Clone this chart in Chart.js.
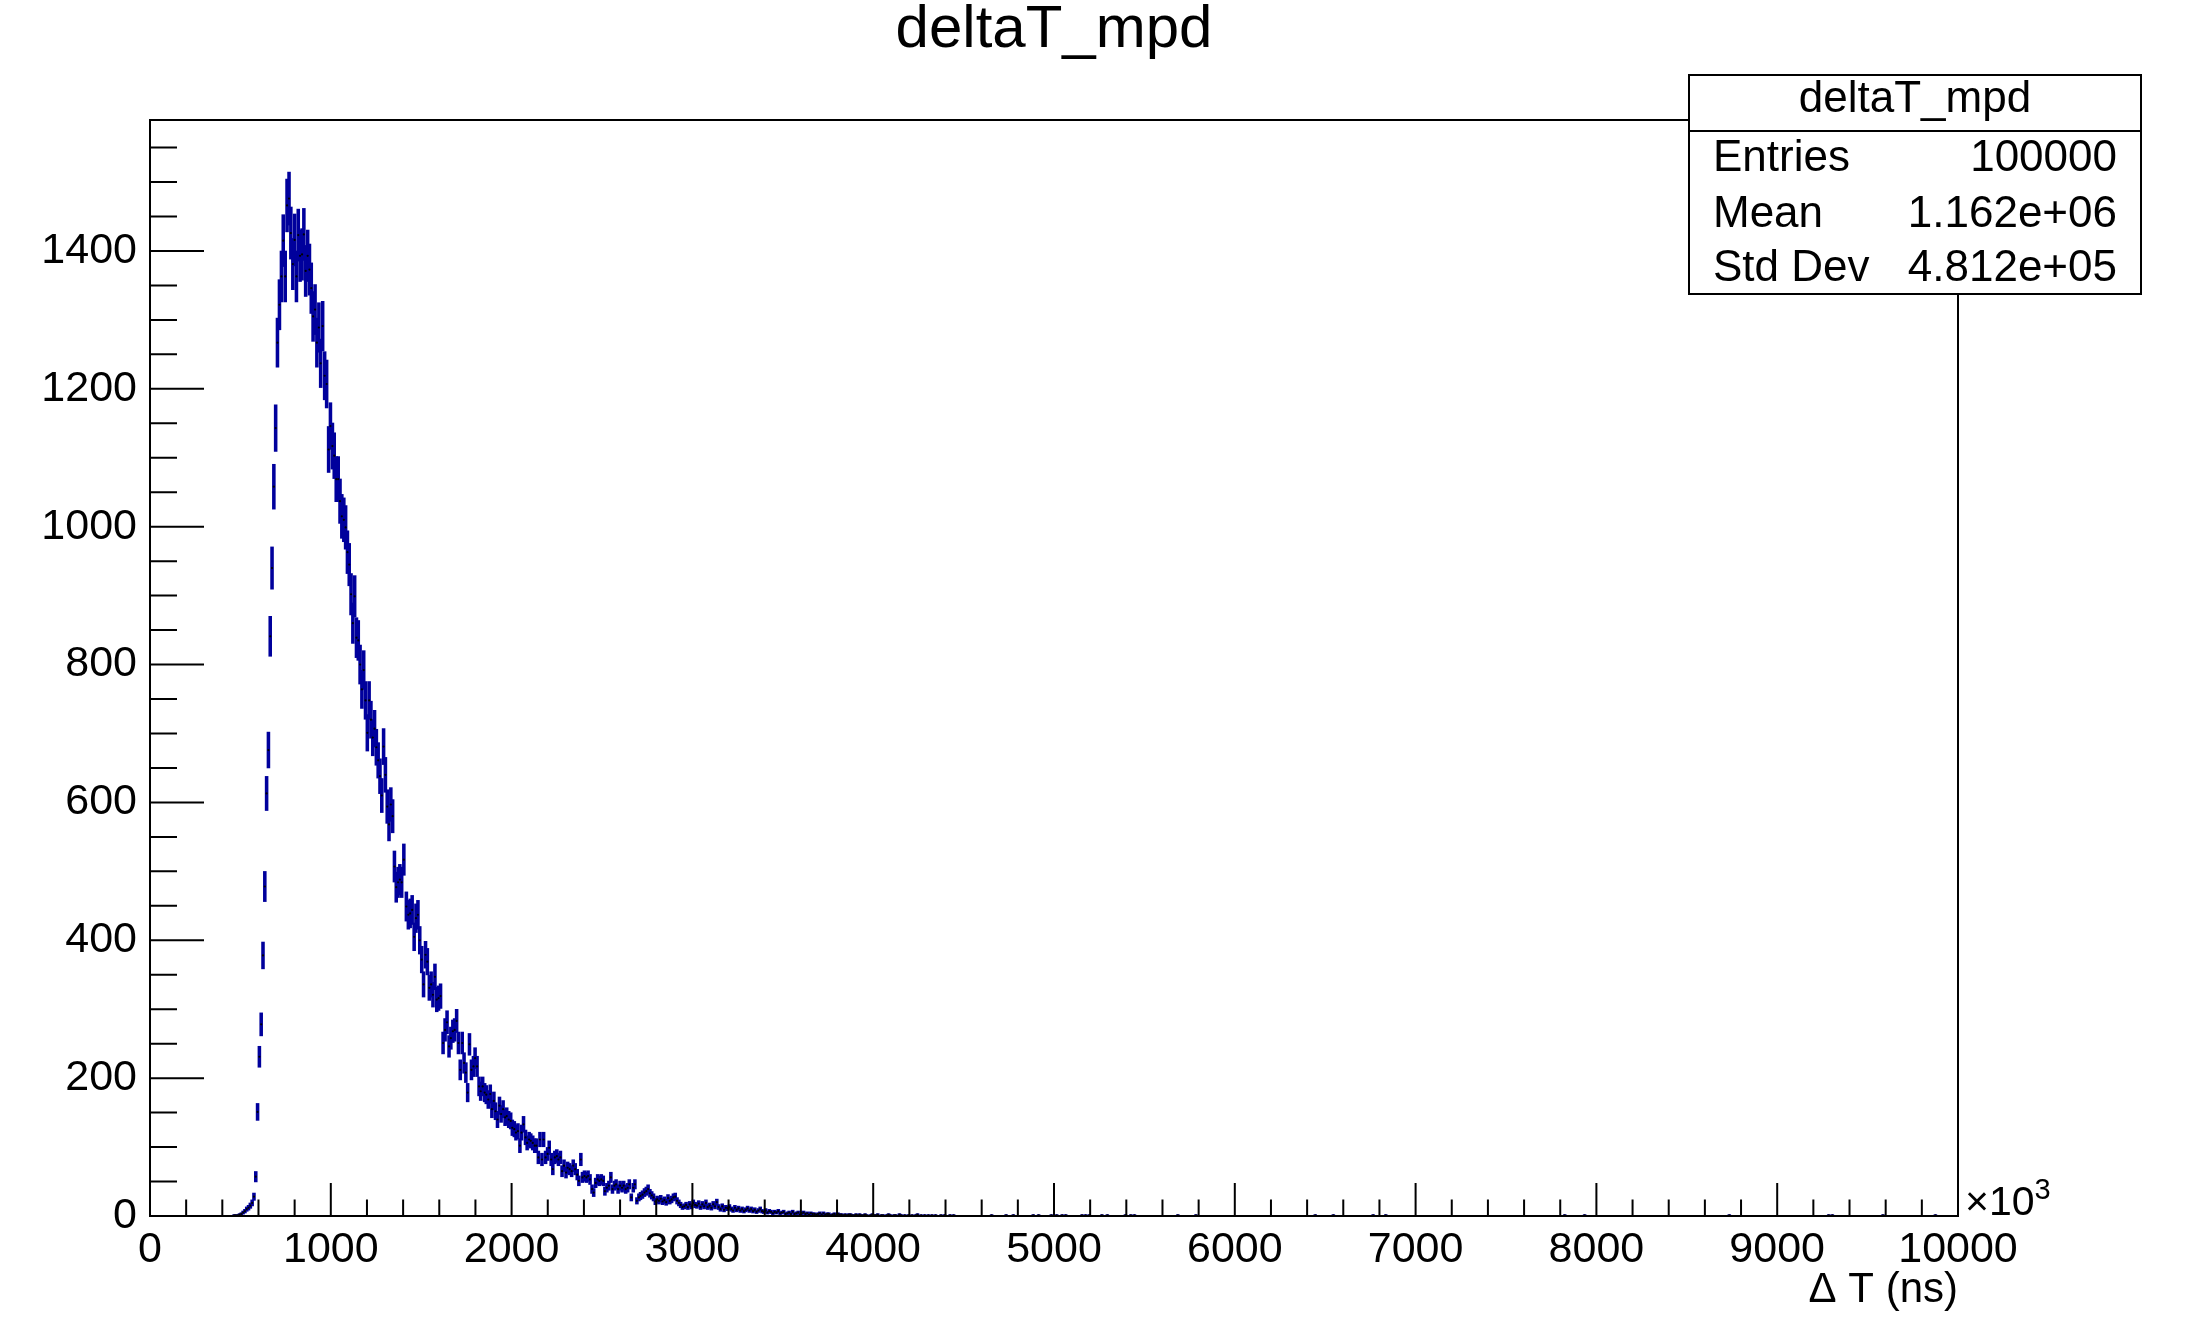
<!DOCTYPE html>
<html>
<head>
<meta charset="utf-8">
<title>deltaT_mpd</title>
<script src="https://cdn.jsdelivr.net/npm/chart.js@4.4.1/dist/chart.umd.min.js"></script>
<style>
  html, body { margin: 0; padding: 0; background: #fff; }
  canvas { display: block; }
</style>
</head>
<body>
<canvas id="c" width="2193" height="1334"></canvas>
<script>
// histogram deltaT_mpd, x in units of 10^3 ns, bin centres
const riseX = [465, 475, 485, 495, 505, 515, 525, 535, 545, 555, 565, 575, 585, 595, 605, 615, 625, 635, 645, 655, 665, 675, 685, 695];
const riseN = [1, 1, 1, 2, 3, 5, 7, 10, 12, 15, 19, 28, 57, 151, 231, 278, 378, 478, 613, 676, 841, 940, 1058, 1143];

const peakX = [705, 716, 727, 737, 748, 758, 769, 779, 790, 800, 810, 820, 830, 841, 851, 861, 872, 882, 892, 902,
  913, 923, 934, 944, 955, 966, 977, 988, 998, 1009];
const peakN = [1267, 1322, 1363, 1415, 1363, 1466, 1476, 1426, 1381, 1416, 1363, 1423, 1393, 1395, 1424, 1371, 1393, 1373, 1346, 1305,
  1315, 1267, 1289, 1237, 1291, 1219, 1207, 1112, 1146, 1117];

const fallX = [1019, 1030, 1041, 1051, 1061, 1072, 1082, 1092, 1102, 1112, 1122, 1132, 1142, 1152, 1162, 1172, 1182, 1192, 1202, 1212,
  1222, 1232, 1242, 1252, 1262, 1272, 1282, 1292, 1302, 1312, 1322, 1332, 1342];
const fallN = [1103, 1069, 1069, 1037, 1015, 1010, 999, 963, 945, 902, 860, 899, 839, 835, 800, 764, 792, 748, 701, 748,
  720, 694, 707, 680, 661, 638, 610, 681, 640, 594, 568, 597, 580];

const slopeX = [1352, 1362, 1372, 1382, 1392, 1404, 1418, 1429, 1439, 1450,
  1461, 1471, 1482, 1492, 1503, 1513, 1524, 1534, 1545, 1555,
  1565, 1576, 1586, 1596, 1607, 1621, 1632, 1643, 1654, 1664,
  1675, 1685, 1696, 1706, 1716, 1727, 1737, 1747, 1757, 1767,
  1778, 1789, 1798, 1809, 1820, 1829, 1840, 1851, 1860, 1871,
  1882, 1891, 1902, 1911, 1922, 1933, 1942, 1953, 1964, 1973,
  1984, 1995, 2004, 2015, 2024, 2035, 2046, 2055, 2066, 2077,
  2086, 2097, 2106, 2117, 2128, 2137, 2148, 2157, 2168, 2177,
  2188, 2199, 2208, 2219, 2228, 2239, 2250, 2259, 2270, 2279,
  2290, 2301, 2310, 2321, 2332, 2341, 2352, 2363, 2372, 2383,
  2392, 2403, 2414, 2423, 2434, 2445, 2454, 2465, 2476, 2485,
  2496, 2507, 2516, 2527, 2538, 2549, 2558, 2569, 2578, 2589,
  2600, 2611, 2620, 2631, 2642, 2651, 2662, 2673, 2682, 2693,
  2704, 2713, 2724, 2735];
const slopeN = [507, 477, 484, 488, 484, 517, 449, 437, 439, 444,
  405, 432, 437, 400, 372, 336, 379, 369, 331, 336,
  321, 347, 314, 316, 319, 251, 270, 281, 246, 258,
  268, 270, 283, 251, 212, 251, 222, 208, 179, 249,
  212, 217, 229, 217, 188, 181, 188, 179, 176, 169,
  177, 155, 167, 152, 140, 160, 148, 155, 143, 145,
  140, 138, 128, 126, 121, 123, 102, 121, 133, 114,
  106, 111, 109, 106, 102, 102, 85, 111, 82, 111,
  85, 90, 99, 82, 68, 85, 87, 82, 85, 65,
  73, 63, 70, 68, 65, 73, 68, 60, 51, 82,
  56, 58, 56, 58, 53, 39, 34, 48, 53, 51,
  53, 51, 36, 41, 44, 56, 39, 44, 46, 39,
  44, 41, 44, 39, 41, 46, 27, 41, 46, 22,
  27, 29, 31, 34];

const tailX = [2745, 2755, 2765, 2775, 2785, 2795, 2805, 2815, 2825, 2835,
  2845, 2855, 2865, 2875, 2885, 2895, 2905, 2915, 2925, 2935,
  2945, 2955, 2965, 2975, 2985, 2995, 3005, 3015, 3025, 3035,
  3045, 3055, 3065, 3075, 3085, 3095, 3105, 3115, 3125, 3135,
  3145, 3155, 3165, 3175, 3185, 3195, 3205, 3215, 3225, 3235,
  3245, 3255, 3265, 3275, 3285, 3295, 3305, 3315, 3325, 3335,
  3345, 3355, 3365, 3375, 3385, 3395, 3405, 3415, 3425, 3435,
  3445, 3455, 3465, 3475, 3485, 3495, 3505, 3515, 3525, 3535,
  3545, 3555, 3565, 3575, 3585, 3595, 3605, 3615, 3625, 3635,
  3645, 3655, 3665, 3675, 3685, 3695, 3705, 3715, 3725, 3735,
  3745, 3755, 3765, 3775, 3785, 3795, 3805, 3815, 3825, 3835,
  3845, 3855, 3865, 3875, 3885, 3895, 3905, 3915, 3925, 3935];
const tailN = [36, 39, 33, 30, 27, 21, 24, 22, 25, 21,
  23, 20, 26, 22, 24, 27, 28, 22, 19, 16,
  13, 14, 16, 13, 17, 14, 19, 16, 15, 18,
  13, 17, 14, 19, 13, 15, 12, 17, 14, 20,
  13, 10, 14, 9, 12, 11, 13, 10, 8, 12,
  9, 11, 8, 10, 7, 9, 11, 8, 10, 7,
  9, 6, 8, 10, 7, 6, 8, 5, 7, 6,
  4, 6, 5, 7, 4, 5, 6, 3, 4, 5,
  3, 6, 3, 4, 5, 2, 4, 5, 3, 4,
  2, 4, 3, 3, 2, 3, 4, 2, 4, 2,
  3, 3, 1, 2, 3, 1, 3, 2, 2, 1,
  2, 1, 2, 2, 1, 1, 2, 1, 2, 1];

const strayX = [3945, 3955, 3965, 3985, 3995, 4005, 4015, 4025, 4045, 4055,
  4075, 4085, 4095, 4115, 4125, 4145, 4155, 4175, 4195, 4215,
  4235, 4245, 4265, 4285, 4305, 4325, 4345, 4375, 4395, 4425,
  4445, 4655, 4735, 4775, 4885, 4915, 4985, 5015, 5045, 5065,
  5155, 5175, 5195, 5265, 5295, 5395, 5425, 5445, 5685, 5785,
  6445, 6545, 6765, 6835, 7825, 7935, 8735, 9285, 9305, 9585,
  9875];
const strayN = [1, 2, 1, 1, 2, 1, 1, 2, 1, 1,
  1, 2, 1, 1, 1, 2, 1, 1, 1, 1,
  1, 2, 1, 1, 1, 1, 1, 1, 1, 1,
  1, 1, 1, 1, 1, 1, 1, 1, 1, 1,
  1, 1, 1, 1, 1, 1, 1, 1, 1, 1,
  1, 1, 1, 1, 1, 1, 1, 1, 1, 1,
  1];

const yLabels = [0, 200, 400, 600, 800, 1000, 1200, 1400];
const statsRows = [['Entries', '100000'], ['Mean', '1.162e+06'], ['Std Dev', '4.812e+05']];
const histName = 'deltaT_mpd';

const FONT = '"Liberation Sans", Arial, Helvetica, sans-serif';
const LINE = '#00009c';

const binX = [...riseX, ...peakX, ...fallX, ...slopeX, ...tailX, ...strayX];
const binN = [...riseN, ...peakN, ...fallN, ...slopeN, ...tailN, ...strayN];

// error bars: N +- sqrt(N)
const errBars = binX.map((x, i) => {
  const e = Math.sqrt(binN[i]);
  return { x, y: [binN[i] - e, binN[i] + e] };
});
const markers = binX.map((x, i) => ({ x, y: binN[i] }));

const rootFrame = {
  id: 'rootFrame',
  afterDatasetsDraw(chart) {
    const { ctx, chartArea: a, scales: { x, y } } = chart;
    ctx.save();
    ctx.strokeStyle = '#000';
    ctx.lineWidth = 2;
    ctx.strokeRect(a.left, a.top, a.right - a.left, a.bottom - a.top);
    ctx.beginPath();
    for (let v = 0; v <= x.max; v += 200) {
      const px = x.getPixelForValue(v);
      const len = v % 1000 === 0 ? 33 : 16.5;
      ctx.moveTo(px, a.bottom);
      ctx.lineTo(px, a.bottom - len);
    }
    for (let v = 0; v <= y.max; v += 50) {
      const py = y.getPixelForValue(v);
      const len = v % 200 === 0 ? 54 : 27;
      ctx.moveTo(a.left, py);
      ctx.lineTo(a.left + len, py);
    }
    ctx.stroke();

    // y tick labels
    ctx.fillStyle = '#000';
    ctx.font = '43px ' + FONT;
    ctx.textAlign = 'right';
    ctx.textBaseline = 'middle';
    yLabels.forEach(v => ctx.fillText(String(v), a.left - 13, y.getPixelForValue(v)));
    ctx.restore();
  },
  afterDraw(chart) {
    const { ctx, chartArea: a } = chart;
    ctx.save();
    // axis exponent
    ctx.fillStyle = '#000';
    ctx.textBaseline = 'alphabetic';
    ctx.textAlign = 'left';
    ctx.font = '41px ' + FONT;
    ctx.fillText('\u00d710', a.right + 7, a.bottom - 1);
    const w = ctx.measureText('\u00d710').width;
    ctx.font = '29px ' + FONT;
    ctx.fillText('3', a.right + 7 + w, a.bottom - 17);

    // stats box
    const bx = 1689, by = 75, bw = 452, bh = 219;
    ctx.fillStyle = '#fff';
    ctx.fillRect(bx, by, bw, bh);
    ctx.strokeStyle = '#000';
    ctx.lineWidth = 2;
    ctx.strokeRect(bx, by, bw, bh);
    ctx.beginPath();
    ctx.moveTo(bx, 131);
    ctx.lineTo(bx + bw, 131);
    ctx.stroke();
    ctx.fillStyle = '#000';
    ctx.font = '44px ' + FONT;
    ctx.textBaseline = 'middle';
    ctx.textAlign = 'center';
    ctx.fillText(histName, bx + bw / 2, 100);
    const rowY = [159, 215, 269];
    statsRows.forEach((r, i) => {
      ctx.textAlign = 'left';
      ctx.fillText(r[0], bx + 24, rowY[i]);
      ctx.textAlign = 'right';
      ctx.fillText(r[1], bx + bw - 24, rowY[i]);
    });
    ctx.restore();
  }
};

const ctx = document.getElementById('c').getContext('2d');
new Chart(ctx, {
  type: 'bar',
  data: {
    datasets: [
      {
        type: 'scatter',
        data: markers,
        pointRadius: 1.1,
        pointBackgroundColor: '#000',
        pointBorderWidth: 0,
        order: 0
      },
      {
        data: errBars,
        backgroundColor: LINE,
        borderWidth: 0,
        barThickness: 2.9,
        grouped: false,
        order: 1
      }
    ]
  },
  options: {
    responsive: false,
    animation: false,
    devicePixelRatio: 1,
    layout: { padding: { left: 0, right: 235, top: 0, bottom: 0 } },
    plugins: {
      legend: { display: false },
      tooltip: { enabled: false },
      title: {
        display: true,
        fullSize: false,
        text: histName,
        color: '#000',
        font: { family: FONT, size: 60, weight: 'normal', lineHeight: 1 },
        padding: { top: 0, bottom: 60 }
      }
    },
    scales: {
      x: {
        type: 'linear',
        min: 0,
        max: 10000,
        offset: false,
        grid: { display: false, drawTicks: false },
        border: { display: false },
        ticks: {
          stepSize: 1000,
          autoSkip: false,
          maxRotation: 0,
          color: '#000',
          padding: 8,
          font: { family: FONT, size: 43 },
          callback: v => String(v)
        },
        title: {
          display: true,
          text: '\u0394 T (ns)',
          align: 'end',
          color: '#000',
          font: { family: FONT, size: 42, lineHeight: 1 },
          padding: { top: 0, bottom: 23 }
        },
        afterFit(s) { s.height = 118; }
      },
      y: {
        type: 'linear',
        min: 0,
        max: 1590,
        grid: { display: false, drawTicks: false },
        border: { display: false },
        ticks: { display: false },
        afterFit(s) { s.width = 150; }
      }
    }
  },
  plugins: [rootFrame]
});
</script>
</body>
</html>
